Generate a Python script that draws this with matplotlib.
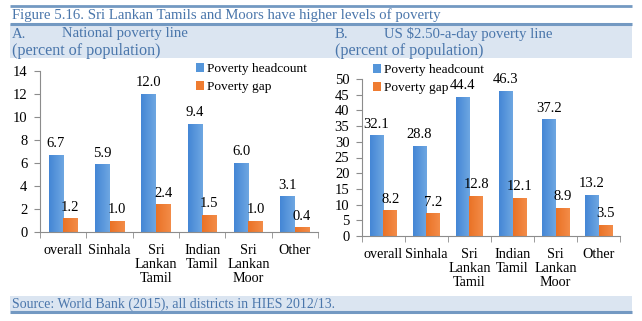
import matplotlib
matplotlib.use('Agg')
import matplotlib.pyplot as plt
import numpy as np
from matplotlib.patches import Rectangle
from matplotlib.lines import Line2D
from matplotlib.colors import LinearSegmentedColormap

# ---- data ----
categories = ["overall", "Sinhala", "Sri\nLankan\nTamil", "Indian\nTamil", "Sri\nLankan\nMoor", "Other"]
series_names = ["Poverty headcount", "Poverty gap"]
national_headcount = [6.7, 5.9, 12.0, 9.4, 6.0, 3.1]
national_gap = [1.2, 1.0, 2.4, 1.5, 1.0, 0.4]
intl_headcount = [32.1, 28.8, 44.4, 46.3, 37.2, 13.2]
intl_gap = [8.2, 7.2, 12.8, 12.1, 8.9, 3.5]
national_yticks = [0, 2, 4, 6, 8, 10, 12, 14]
intl_yticks = [0, 5, 10, 15, 20, 25, 30, 35, 40, 45, 50]
title_text = "Figure 5.16. Sri Lankan Tamils and Moors have higher levels of poverty"
panel_a = ("A.", "National poverty line", "(percent of population)")
panel_b = ("B.", "US $2.50-a-day poverty line", "(percent of population)")
source_text = "Source: World Bank (2015), all districts in HIES 2012/13."

plt.rcParams['font.family'] = ['Liberation Serif', 'DejaVu Serif']

W, H = 642, 321
fig = plt.figure(figsize=(W / 100, H / 100), dpi=100)
fig.patch.set_facecolor('white')

def fx(x):
    return x / W

def fy(y):
    return 1 - y / H

BAND = '#dbe5f1'
LINE = '#7399c2'
TXT = '#4a76ab'
BLUE = '#5596da'
ORANGE = '#ef7c31'
blue_cmap = LinearSegmentedColormap.from_list('b', ['#4486d5', '#6ea7e2'])
orange_cmap = LinearSegmentedColormap.from_list('o', ['#ea7226', '#f38c48'])

# header / footer decoration
fig.add_artist(Rectangle((fx(10), fy(58)), fx(632) - fx(10), (58 - 24) / H,
                         transform=fig.transFigure, facecolor=BAND, edgecolor='none', zorder=0))
fig.add_artist(Rectangle((fx(10), fy(311)), fx(632) - fx(10), (311 - 296) / H,
                         transform=fig.transFigure, facecolor=BAND, edgecolor='none', zorder=0))
for yy, lw in [(6, 2.0), (24, 2.2), (312, 2.2)]:
    fig.add_artist(Line2D([fx(10), fx(632)], [fy(yy), fy(yy)], transform=fig.transFigure,
                          color=LINE, lw=lw, solid_capstyle='butt'))

fig.text(fx(12), fy(15), title_text, color=TXT, fontsize=10.6, va='center', ha='left')
fig.text(fx(12), fy(34), panel_a[0], color=TXT, fontsize=10.6, va='center', ha='left')
fig.text(fx(62), fy(34), panel_a[1], color=TXT, fontsize=10.6, va='center', ha='left')
fig.text(fx(12), fy(51), panel_a[2], color=TXT, fontsize=11.6, va='center', ha='left')
fig.text(fx(335), fy(34), panel_b[0], color=TXT, fontsize=10.6, va='center', ha='left')
fig.text(fx(384), fy(34), panel_b[1], color=TXT, fontsize=10.6, va='center', ha='left')
fig.text(fx(335), fy(51), panel_b[2], color=TXT, fontsize=11.6, va='center', ha='left')
fig.text(fx(12), fy(304), source_text, color=TXT, fontsize=10, va='center', ha='left')


def gradient_bars(ax, bars, cmap):
    grad = np.linspace(0, 1, 64).reshape(1, -1)
    for r in bars:
        r.set_facecolor('none')
        x0, w, h = r.get_x(), r.get_width(), r.get_height()
        im = ax.imshow(grad, cmap=cmap, aspect='auto', extent=(x0, x0 + w, 0, h),
                       interpolation='bilinear', zorder=2)
        im.set_clip_path(r)


def panel(rect_px, head, gap, yticks, width, legend_xy):
    x0, x1, ybot, ytop = rect_px
    ax = fig.add_axes([fx(x0), fy(ybot), fx(x1) - fx(x0), (ybot - ytop) / H])
    ax.set_facecolor('none')
    x = np.arange(len(categories))
    b1 = ax.bar(x - width / 2, head, width, color=BLUE, label=series_names[0], zorder=2, linewidth=0)
    b2 = ax.bar(x + width / 2, gap, width, color=ORANGE, label=series_names[1], zorder=2, linewidth=0)
    for bars, vals in [(b1, head), (b2, gap)]:
        for r, v in zip(bars, vals):
            ax.annotate(f"{v:.1f}", (r.get_x() + r.get_width() / 2, r.get_height()),
                        xytext=(0, 5.5), textcoords='offset points', ha='center', va='baseline',
                        fontsize=10.5, color='black')
    fig.legend(handles=[b1, b2], loc='upper left', bbox_to_anchor=(fx(legend_xy[0]), fy(legend_xy[1])),
               frameon=False, fontsize=9.6, handlelength=0.6, handleheight=0.6,
               handletextpad=0.25, labelspacing=0.45, borderpad=0, borderaxespad=0)
    gradient_bars(ax, b1, blue_cmap)
    gradient_bars(ax, b2, orange_cmap)
    ax.set_xlim(-0.5, len(categories) - 0.5)
    ax.set_ylim(yticks[0], yticks[-1])
    ax.set_yticks(yticks)
    ax.set_xticks(x)
    ax.set_xticklabels(categories, fontsize=10.2, linespacing=1.07, va='top')
    ax.set_xticks(np.arange(-0.5, len(categories), 1), minor=True)
    ax.tick_params(axis='x', which='major', length=0, pad=9)
    ax.tick_params(axis='x', which='minor', length=4, direction='out', color='#8c8c8c')
    ax.tick_params(axis='y', length=4, direction='out', color='#8c8c8c', labelsize=10.5, pad=5)
    for s in ['top', 'right']:
        ax.spines[s].set_visible(False)
    for s in ['left', 'bottom']:
        ax.spines[s].set_color('#8c8c8c')
        ax.spines[s].set_linewidth(0.8)
        ax.spines[s].set_zorder(3)
    return ax

panel((40, 318, 232, 71), national_headcount, national_gap, national_yticks, 0.31, (196, 63))
panel((362, 620, 236, 79), intl_headcount, intl_gap, intl_yticks, 0.32, (373, 64))

fig.savefig('out.png', dpi=100, facecolor='white')
